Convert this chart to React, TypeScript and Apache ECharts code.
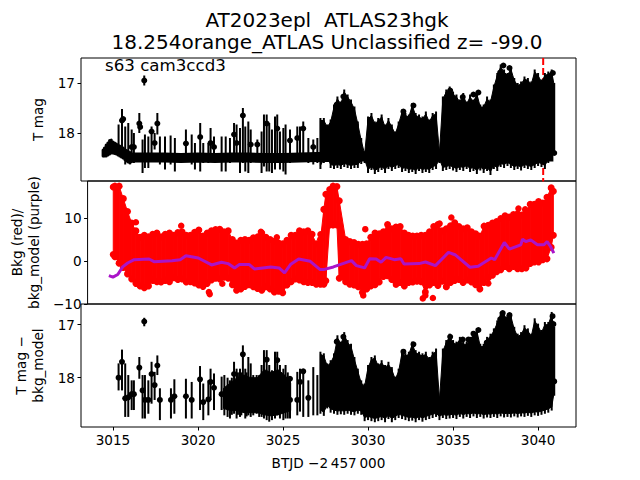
import React, { useEffect, useRef } from "react";
import * as echarts from "echarts";

const titleText = "AT2023epl  ATLAS23hgk\n18.254orange_ATLAS Unclassified z= -99.0";
const sectorText = "s63 cam3ccd3";
const xTicks = [3015, 3020, 3025, 3030, 3035, 3040];
const yTicks1 = [17, 18];
const yTicks2 = [-10, 0, 10];
const yTicks3 = [17, 18];
const eventT = [3040.3, 3040.3];
const eventY = [16.5, 18.97];

// dense region, panels 1 and 3
const denseT = [3027.2,3027.4,3027.6,3027.8,3028.0,3028.2,3028.4,3028.6,3028.8,3029.0,3029.2,3029.4,3029.6,3029.8,3030.0,3030.2,3030.4,3030.6,3030.8,3031.0,3031.2,3031.4,3031.6,3031.8,3032.0,3032.2,3032.4,3032.6,3032.8,3033.0,3033.2,3033.4,3033.6,3033.8,3034.0,3034.2,3034.4,3034.6,3034.8,3035.0,3035.2,3035.4,3035.6,3035.8,3036.0,3036.2,3036.4,3036.6,3036.8,3037.0,3037.2,3037.4,3037.6,3037.8,3038.0,3038.2,3038.4,3038.6,3038.8,3039.0,3039.2,3039.4,3039.6,3039.8,3040.0,3040.2,3040.4,3040.6,3040.8,3040.95];
const denseTop1 = [17.70,17.70,17.83,17.73,17.43,17.27,17.37,17.13,17.23,17.33,17.47,17.77,18.10,18.37,17.67,17.60,17.77,17.70,17.63,17.83,17.70,17.83,17.97,17.77,17.53,17.60,17.63,17.40,17.60,17.63,17.67,17.57,17.73,17.60,17.57,18.33,17.27,17.13,17.07,17.17,17.23,17.33,17.20,17.37,17.23,17.33,17.17,17.43,17.43,17.27,17.33,17.03,16.80,16.63,16.73,16.80,16.67,16.90,17.0,16.97,16.87,16.90,16.97,16.73,16.80,16.93,16.80,16.77,16.73,17.0];
const denseBot1 = [18.72,18.6,18.55,18.7,18.72,18.7,18.72,18.68,18.7,18.72,18.7,18.7,18.62,18.6,18.8,18.74,18.82,18.78,18.74,18.8,18.72,18.76,18.72,18.7,18.78,18.76,18.8,18.78,18.82,18.76,18.8,18.78,18.8,18.74,18.72,18.6,18.76,18.74,18.72,18.75,18.78,18.74,18.76,18.72,18.78,18.76,18.82,18.75,18.8,18.76,18.84,18.72,18.76,18.68,18.7,18.66,18.7,18.74,18.72,18.75,18.7,18.72,18.74,18.7,18.66,18.68,18.72,18.6,18.5,18.4];
const denseTop3 = [17.51,17.54,17.73,17.67,17.54,17.20,17.32,17.14,17.29,17.36,17.61,17.83,18.05,18.11,17.76,17.61,17.58,17.73,17.67,17.76,17.70,17.80,17.98,17.83,17.48,17.54,17.51,17.32,17.48,17.51,17.54,17.51,17.61,17.51,17.45,18.36,17.45,17.29,17.17,17.29,17.32,17.23,17.32,17.32,17.23,17.14,17.07,17.36,17.36,17.23,17.17,17.07,16.92,16.76,16.79,16.82,16.79,17.04,17.17,17.14,17.01,17.07,17.17,16.88,16.98,17.10,16.95,16.95,16.76,17.04];
const denseBot3 = [18.68,18.72,18.58,18.66,18.68,18.7,18.69,18.7,18.68,18.7,18.71,18.68,18.7,18.82,18.8,18.82,18.84,18.82,18.8,18.84,18.78,18.84,18.8,18.76,18.78,18.8,18.82,18.81,18.84,18.8,18.83,18.8,18.78,18.76,18.74,18.8,18.76,18.78,18.77,18.76,18.78,18.74,18.77,18.74,18.76,18.73,18.76,18.74,18.77,18.75,18.76,18.74,18.76,18.73,18.75,18.74,18.75,18.73,18.75,18.73,18.74,18.72,18.74,18.71,18.72,18.7,18.68,18.66,18.62,18.34];
const denseDotT1 = [3028.16,3028.55,3032.08,3032.67,3034.83,3035.57,3036.2,3036.49,3037.77,3037.96,3038.32,3040.87,3040.95];
const denseDotM1 = [17.43,17.27,17.57,17.45,17.15,17.28,17.23,17.19,16.79,16.65,16.7,16.8,18.4];
const denseDotT3 = [3028.16,3028.55,3032.08,3032.67,3034.83,3035.57,3035.9,3036.2,3036.49,3036.98,3037.77,3037.92,3038.32,3040.85,3040.9,3040.95];
const denseDotM3 = [17.32,17.23,17.51,17.37,17.23,17.28,17.28,17.17,17.10,17.34,16.90,16.78,16.82,16.84,16.99,18.07];

// sparse region, panel 1
const midT1 = [3015.33,3015.53,3015.72,3015.90,3016.10,3016.23,3016.55,3016.74,3016.88,3017.08,3017.27,3017.45,3017.61,3017.76,3018.06,3018.39,3018.64,3019.29,3019.63,3019.82,3020.13,3020.31,3020.61,3020.74,3020.94,3021.39,3021.63,3021.88,3022.12,3022.27,3022.47,3022.64,3022.78,3022.96,3023.10,3023.49,3023.74,3023.88,3024.04,3024.19,3024.35,3024.53,3024.66,3024.82,3025.02,3025.15,3025.41,3025.84,3026.00,3026.19,3026.49,3026.78,3027.02];
const midTop1 = [17.83,17.52,17.87,17.80,17.93,18.0,17.6,18.13,18.03,18.07,17.87,18.0,17.6,18.07,18.07,18.05,18.1,17.93,18.03,18.2,17.8,18.2,18.2,17.9,18.07,18.07,18.07,18.1,17.8,17.83,17.9,17.5,17.87,17.77,17.93,18.13,17.97,17.63,17.63,17.8,17.93,17.67,17.63,17.97,17.9,17.83,17.93,17.87,17.87,17.77,18.1,18.13,18.1];
const midBot1 = [18.33,18.33,18.63,18.60,18.60,18.6,18.0,18.8,18.7,18.7,18.47,18.33,18.03,18.63,18.73,18.63,18.77,18.47,18.63,18.73,18.77,18.6,18.6,18.57,18.53,18.77,18.77,18.6,18.53,18.53,18.8,18.6,18.77,18.8,18.6,18.57,18.8,18.67,18.77,18.77,18.8,18.73,18.6,18.73,18.77,18.83,18.6,18.53,18.53,18.57,18.6,18.63,18.6];
const midDotT1 = [3015.53,3015.60,3016.10,3016.23,3016.55,3016.60,3017.27,3017.45,3017.61,3019.29,3020.13,3020.74,3020.94,3022.12,3022.27,3022.64,3023.10,3023.49,3024.04,3024.66,3025.41,3025.84,3026.19,3026.78];
const midDotM1 = [17.75,17.72,18.28,18.28,17.81,17.88,17.97,18.2,17.81,18.21,18.08,18.2,18.28,18.03,18.2,17.65,18.23,18.23,17.81,17.91,18.15,18.1,17.91,18.28];
const flareT1 = [3016.84];
const flareM1 = [16.95];
const flareTop1 = [16.85];
const flareBot1 = [17.05];

// bright end of the thick baseline, panel 1
const capT = [3014.42,3014.5,3014.6,3014.7,3014.8,3014.9,3015.0,3015.1,3015.2,3015.3,3015.4,3015.5,3015.6,3015.7,3015.8,3015.9,3016.0];
const capTop = [18.34,18.30,18.24,18.20,18.15,18.14,18.18,18.20,18.22,18.24,18.26,18.28,18.30,18.33,18.35,18.37,18.39];
const capBot = [18.46,18.46,18.46,18.44,18.42,18.40,18.40,18.41,18.42,18.44,18.46,18.48,18.50,18.53,18.56,18.58,18.6];
const baseT = [3016.0,3017,3018,3019,3020,3021,3022,3023,3024,3025,3026,3027,3028,3029,3030,3031,3032,3033,3034,3035,3036,3037,3038,3039,3040,3040.9];
const baseM = [18.49,18.49,18.49,18.50,18.49,18.50,18.49,18.49,18.50,18.50,18.49,18.48,18.48,18.47,18.47,18.47,18.47,18.47,18.47,18.47,18.47,18.47,18.47,18.47,18.47,18.47];

// sparse region, panel 3
const midT3 = [3015.33,3015.53,3015.72,3015.90,3016.10,3016.23,3016.55,3016.74,3016.88,3017.08,3017.27,3017.45,3017.61,3017.76,3018.41,3018.61,3019.29,3019.63,3020.12,3020.31,3020.61,3020.74,3020.94,3021.39,3021.55,3021.74,3021.88,3021.99,3022.12,3022.27,3022.35,3022.47,3022.55,3022.64,3022.78,3022.86,3022.96,3023.10,3023.25,3023.45,3023.6,3023.74,3023.88,3024.04,3024.19,3024.35,3024.53,3024.66,3024.82,3025.02,3025.15,3025.28,3025.41,3025.84,3026.00,3026.19,3026.49,3026.78,3027.02];
const midTop3 = [17.73,17.47,17.73,17.95,18.05,18.05,17.61,17.95,17.95,18.05,17.70,17.89,17.58,18.20,18.20,18.03,18.02,18.08,17.78,18.11,18.05,17.83,17.92,17.98,17.95,18.0,18.05,18.0,17.70,17.83,17.9,17.83,17.9,17.39,17.83,17.9,17.61,17.73,17.95,17.95,17.95,17.76,17.48,17.48,17.76,17.86,17.51,17.51,17.76,17.83,17.76,17.9,18.02,17.89,17.83,17.89,18.05,17.80,17.95];
const midBot3 = [18.24,18.24,18.74,18.74,18.61,18.61,18.02,18.77,18.77,18.68,18.49,18.42,17.95,18.80,18.77,18.68,18.77,18.77,18.61,18.80,18.71,18.42,18.61,18.61,18.71,18.74,18.77,18.7,18.68,18.77,18.7,18.74,18.71,18.61,18.77,18.73,18.71,18.74,18.71,18.68,18.74,18.74,18.77,18.80,18.83,18.80,18.77,18.71,18.77,18.80,18.77,18.77,18.77,18.71,18.64,18.74,18.74,18.71,18.71];
const midDotT3 = [3015.33,3015.53,3015.72,3015.90,3016.10,3016.23,3016.55,3016.74,3016.88,3017.08,3017.27,3017.45,3017.61,3017.76,3018.41,3018.61,3019.29,3019.63,3020.12,3020.31,3020.61,3020.74,3020.94,3021.39,3022.12,3022.64,3024.04,3024.66,3025.41,3025.41,3025.84,3026.00,3026.19,3026.49];
const midDotM3 = [18.0,17.70,18.39,18.37,18.31,18.31,17.81,18.24,18.42,18.42,17.93,18.14,17.77,18.42,18.42,18.35,18.35,18.42,18.03,18.46,18.41,18.08,18.19,18.31,17.93,17.56,17.66,17.67,18.02,18.42,18.42,18.08,17.88,18.38];
const fillT3 = [3021.5,3021.9,3022.3,3022.7,3023.1,3023.5,3023.9,3024.3,3024.7,3025.1,3025.45];
const fillTop3 = [18.2,18.1,18.0,17.95,18.0,18.0,17.85,17.9,17.85,17.95,18.1];
const fillBot3 = [18.58,18.62,18.62,18.66,18.66,18.66,18.7,18.72,18.7,18.66,18.62];
const flareT3 = [3016.84];
const flareM3 = [16.94];
const flareTop3 = [16.87];
const flareBot3 = [17.03];

// background flux, panel 2
const bkgT = [3014.65,3014.75,3015.0,3015.25,3015.5,3015.75,3016.0,3016.25,3016.5,3016.75,3017.0,3017.25,3017.5,3017.75,3018.0,3018.25,3018.5,3018.75,3019.0,3019.25,3019.5,3019.75,3020.0,3020.25,3020.5,3020.75,3021.0,3021.25,3021.5,3021.75,3022.0,3022.25,3022.5,3022.75,3023.0,3023.25,3023.5,3023.75,3024.0,3024.25,3024.5,3024.75,3025.0,3025.25,3025.5,3025.75,3026.0,3026.25,3026.5,3026.75,3027.0,3027.2,3027.32,3027.55,3027.75,3027.98,3028.12,3028.5,3028.75,3029.0,3029.25,3029.5,3029.75,3030.0,3030.25,3030.5,3030.75,3031.0,3031.25,3031.5,3031.75,3032.0,3032.25,3032.5,3032.75,3033.0,3033.25,3033.5,3033.75,3034.0,3034.25,3034.5,3034.75,3035.0,3035.25,3035.5,3035.75,3036.0,3036.25,3036.5,3036.75,3037.0,3037.25,3037.5,3037.75,3038.0,3038.25,3038.5,3038.75,3039.0,3039.25,3039.5,3039.75,3040.0,3040.25,3040.5,3040.75,3040.88];
const bkgHi = [17.2,17.4,17.4,14.5,11.5,8.8,7.0,5.5,6.0,5.6,6.2,6.5,5.6,6.2,6.5,6.0,6.6,6.8,6.0,6.0,6.7,7.2,5.8,6.5,7.0,7.3,7.4,6.8,7.0,5.0,4.2,4.8,5.0,4.8,5.4,5.6,6.5,5.5,5.0,4.6,4.2,4.0,4.8,6.0,6.0,7.0,6.8,7.0,6.2,4.0,5.0,12.0,15.5,16.6,17.4,17.3,14.0,5.0,4.5,4.3,3.9,3.9,4.0,5.5,6.5,6.3,6.8,8.5,7.5,7.9,8.0,6.5,6.0,5.8,5.8,6.0,6.0,6.8,8.0,8.5,7.0,7.5,8.2,8.9,8.0,7.5,7.7,6.8,6.3,5.8,8.1,8.3,8.8,9.2,9.9,10.5,10.2,10.8,11.0,10.7,11.5,13.2,13.2,13.8,13.5,14.8,17.0,16.2];
const bkgLo = [1.5,1.0,-0.5,-1.5,-3.0,-4.2,-5.2,-5.8,-6.2,-5.8,-4.5,-4.8,-4.9,-4.5,-4.8,-3.9,-4.3,-4.2,-4.9,-4.8,-5.1,-5.6,-5.9,-5.2,-4.4,-4.0,-4.2,-3.8,-4.0,-5.5,-6.8,-6.5,-5.9,-5.5,-6.0,-6.4,-6.8,-6.0,-6.5,-7.2,-7.0,-7.4,-5.6,-4.8,-4.2,-4.4,-4.8,-5.0,-5.0,-5.4,-5.4,-5.4,-4.6,8.4,8.4,8.4,-4.0,-4.8,-5.4,-5.6,-6.0,-7.3,-6.5,-5.8,-5.5,-4.9,-3.6,-3.4,-4.3,-5.0,-5.0,-5.8,-5.0,-4.9,-4.7,-4.8,-7.2,-5.6,-5.0,-5.7,-4.7,-6.0,-5.0,-4.5,-4.3,-5.0,-4.4,-4.9,-5.5,-6.5,-5.0,-3.9,-3.3,-2.5,-2.0,-1.3,-1.8,-1.3,-1.8,-1.8,-1.6,-0.6,-0.2,-0.2,0.3,0.5,3.2,6.0];
const outT = [3016.0,3018.7,3020.35,3020.4,3021.15,3023.45,3024.4,3027.0,3029.67,3031.5,3033.1,3033.7,3034.1,3034.5,3034.8,3037.0,3038.8,3039.2,3033.25,3029.55];
const outV = [9.0,8.2,-7.2,-7.7,-5.3,6.8,5.5,6.2,7.4,-5.5,-8.7,-8.6,8.7,-6.0,10.1,-5.2,12.2,12.0,-8.0,-8.0];
const modelT = [3014.39,3014.63,3014.92,3015.21,3015.51,3015.90,3016.78,3017.08,3018.15,3018.64,3018.98,3019.72,3020.51,3021.10,3021.49,3021.88,3022.17,3022.76,3023.06,3024.04,3024.53,3024.86,3025.21,3025.70,3026.39,3026.98,3027.18,3027.77,3028.16,3028.85,3029.14,3029.63,3029.93,3030.32,3030.61,3030.91,3031.40,3031.79,3031.98,3032.87,3033.26,3033.85,3034.63,3035.02,3035.91,3036.40,3037.18,3037.38,3037.96,3038.26,3038.94,3039.04,3039.24,3039.53,3039.93,3040.32,3040.51,3040.71,3040.91];
const modelV = [-3.4,-3.75,-3.14,-1.38,-0.46,0.31,0.46,-0.15,0.08,0.31,1.23,0.69,-0.92,-0.30,-0.61,-1.61,-0.84,-0.84,-1.84,-1.38,-1.61,-2.76,-0.84,0.46,-0.07,-2.0,-2.0,-1.38,-0.84,0.08,-1.07,-1.61,0.54,0.46,-0.30,0.85,0.31,0.54,-0.69,-0.61,-0.23,-1.07,2.0,1.46,-1.45,-1.22,0.69,0.31,4.3,2.76,3.76,5.06,4.52,4.91,3.76,3.76,4.52,3.37,1.84];

const pair = (xs: number[], ys: number[]) => xs.map((x, i) => [x, ys[i]]);
const triple = (xs: number[], a: number[], b: number[]) => xs.map((x, i) => [x, a[i], b[i]]);

const FONT = "DejaVu Sans";
const BLACK = "#000000";
const RED = "#ff0000";
const PURPLE = "#aa14c8";
const TICK_FONT = 13.6;

function columns(idx: number, data: number[][], color: string, width: number, cap: string, z: number) {
  return {
    type: "custom",
    xAxisIndex: idx,
    yAxisIndex: idx,
    z,
    clip: true,
    encode: { x: 0, y: [1, 2] },
    data,
    renderItem: (_: any, api: any) => {
      const a = api.coord([api.value(0), api.value(1)]);
      const b = api.coord([api.value(0), api.value(2)]);
      return {
        type: "line",
        shape: { x1: a[0], y1: a[1], x2: b[0], y2: b[1] },
        style: { stroke: color, lineWidth: width, lineCap: cap },
      };
    },
  };
}
// filled trapezoids between neighbouring columns; insets pull the fill inside the columns' ends
function bands(idx: number, t: number[], top: number[], bot: number[], color: string, insetTop: number, insetBot: number, z: number) {
  const data = t.slice(0, -1).map((x, i) => [x, top[i], bot[i], t[i + 1], top[i + 1], bot[i + 1]]);
  return {
    type: "custom",
    xAxisIndex: idx,
    yAxisIndex: idx,
    z,
    clip: true,
    encode: { x: [0, 3], y: [1, 2, 4, 5] },
    data,
    renderItem: (_: any, api: any) => {
      const p = (a: number, b: number, inset: number) => api.coord([api.value(a), api.value(b) + inset]);
      return {
        type: "polygon",
        shape: {
          points: [p(0, 1, insetTop), p(3, 4, insetTop), p(3, 5, insetBot), p(0, 2, insetBot)],
        },
        style: { fill: color, stroke: color, lineWidth: 1 },
      };
    },
  };
}
function dots(idx: number, data: number[][], color: string, size: number, z: number) {
  return {
    type: "scatter",
    xAxisIndex: idx,
    yAxisIndex: idx,
    z,
    symbolSize: size,
    data,
    itemStyle: { color, opacity: 1 },
  };
}

const L = 81;
const R = 64;
const tick = { show: true, length: 3.5, lineStyle: { color: BLACK, width: 1 } };
const fmt = (v: number) => String(v).replace("-", "\u2212");

function xAxis(idx: number, labelled: boolean) {
  return {
    type: "value",
    gridIndex: idx,
    min: 3013.12,
    max: 3042.23,
    splitLine: { show: false },
    axisLine: { show: false },
    axisTick: labelled ? { ...tick, customValues: xTicks } : { show: false },
    axisLabel: labelled
      ? { show: true, customValues: xTicks, color: BLACK, fontFamily: FONT, fontSize: TICK_FONT, margin: 6, formatter: fmt }
      : { show: false },
    ...(labelled
      ? { name: "BTJD \u22122\u2009457\u2009000", nameLocation: "middle", nameGap: 29, nameTextStyle: { color: BLACK, fontFamily: FONT, fontSize: TICK_FONT } }
      : {}),
  };
}
function yAxis(idx: number, min: number, max: number, ticks: number[], name: string, inverse: boolean, gap: number) {
  return {
    type: "value",
    gridIndex: idx,
    min,
    max,
    inverse,
    splitLine: { show: false },
    axisLine: { show: false },
    axisTick: { ...tick, customValues: ticks },
    axisLabel: { show: true, customValues: ticks, color: BLACK, fontFamily: FONT, fontSize: TICK_FONT, margin: 6, formatter: fmt },
    name,
    nameLocation: "middle",
    nameRotate: 90,
    nameGap: gap,
    nameTextStyle: { color: BLACK, fontFamily: FONT, fontSize: TICK_FONT, lineHeight: 17, align: "center", verticalAlign: "middle" },
  };
}
const gridOf = (top: number, height: number) => ({
  left: L,
  right: R,
  top,
  height,
  show: true,
  backgroundColor: "transparent",
  borderColor: BLACK,
  borderWidth: 1,
  containLabel: false,
});

export default function App() {
  const ref = useRef<HTMLDivElement>(null);
  useEffect(() => {
    if (!ref.current) return;
    const chart = echarts.init(ref.current, undefined, { renderer: "svg" });
    chart.setOption({
      animation: false,
      backgroundColor: "#ffffff",
      title: {
        text: titleText,
        left: 322,
        top: 4,
        textAlign: "center",
        textStyle: { color: BLACK, fontFamily: FONT, fontSize: 20, fontWeight: "normal", lineHeight: 22 },
      },
      graphic: [
        { type: "text", x: 105, y: 57, z: 50, style: { text: sectorText, fill: BLACK, fontFamily: FONT, fontSize: 16.67 } },
      ],
      grid: [gridOf(58, 123), gridOf(181, 123), gridOf(304, 123)],
      xAxis: [xAxis(0, false), xAxis(1, false), xAxis(2, true)],
      yAxis: [
        yAxis(0, 16.5, 18.96, yTicks1, "T mag", true, 34),
        yAxis(1, -10, 18.6, yTicks2, "Bkg (red)/\nbkg_model (purple)", false, 60),
        yAxis(2, 16.61, 18.93, yTicks3, "T mag \u2212\nbkg_model", true, 42),
      ],
      series: [
        {
          type: "line",
          xAxisIndex: 0,
          yAxisIndex: 0,
          z: 1,
          symbol: "none",
          data: pair(eventT, eventY),
          lineStyle: { color: RED, width: 2, type: [7, 3] },
        },
        {
          type: "line",
          xAxisIndex: 0,
          yAxisIndex: 0,
          z: 3,
          symbol: "none",
          data: pair(baseT, baseM),
          lineStyle: { color: BLACK, width: 10, cap: "butt" },
        },
        columns(0, triple(capT, capTop, capBot), BLACK, 3, "round", 3),
        columns(0, triple(midT1, midTop1, midBot1), BLACK, 2, "butt", 3),
        bands(0, denseT, denseTop1, denseBot1, BLACK, 0.05, -0.07, 3),
        columns(0, triple(denseT, denseTop1, denseBot1), BLACK, 2, "butt", 3),
        columns(0, triple(flareT1, flareTop1, flareBot1), BLACK, 2, "butt", 3),
        dots(0, pair(midDotT1, midDotM1), BLACK, 6, 4),
        dots(0, pair(denseDotT1, denseDotM1), BLACK, 6, 4),
        dots(0, pair(flareT1, flareM1), BLACK, 6, 4),

        bands(1, bkgT, bkgHi, bkgLo, RED, 0, 0, 3),
        dots(1, pair(bkgT, bkgHi), RED, 7, 3),
        dots(1, pair(bkgT, bkgLo), RED, 7, 3),
        dots(1, pair(outT, outV), RED, 6.5, 3),
        {
          type: "line",
          xAxisIndex: 1,
          yAxisIndex: 1,
          z: 5,
          symbol: "none",
          data: pair(modelT, modelV),
          lineStyle: { color: PURPLE, width: 3 },
        },

        bands(2, fillT3, fillTop3, fillBot3, BLACK, 0, 0, 3),
        columns(2, triple(midT3, midTop3, midBot3), BLACK, 2, "butt", 3),
        bands(2, denseT, denseTop3, denseBot3, BLACK, 0.05, -0.07, 3),
        columns(2, triple(denseT, denseTop3, denseBot3), BLACK, 2, "butt", 3),
        columns(2, triple(flareT3, flareTop3, flareBot3), BLACK, 2, "butt", 3),
        dots(2, pair(midDotT3, midDotM3), BLACK, 6, 4),
        dots(2, pair(denseDotT3, denseDotM3), BLACK, 6, 4),
        dots(2, pair(flareT3, flareM3), BLACK, 6, 4),
      ],
    });
    return () => chart.dispose();
  }, []);
  return <div ref={ref} style={{ position: "fixed", left: 0, top: 0, width: 640, height: 480 }} />;
}
